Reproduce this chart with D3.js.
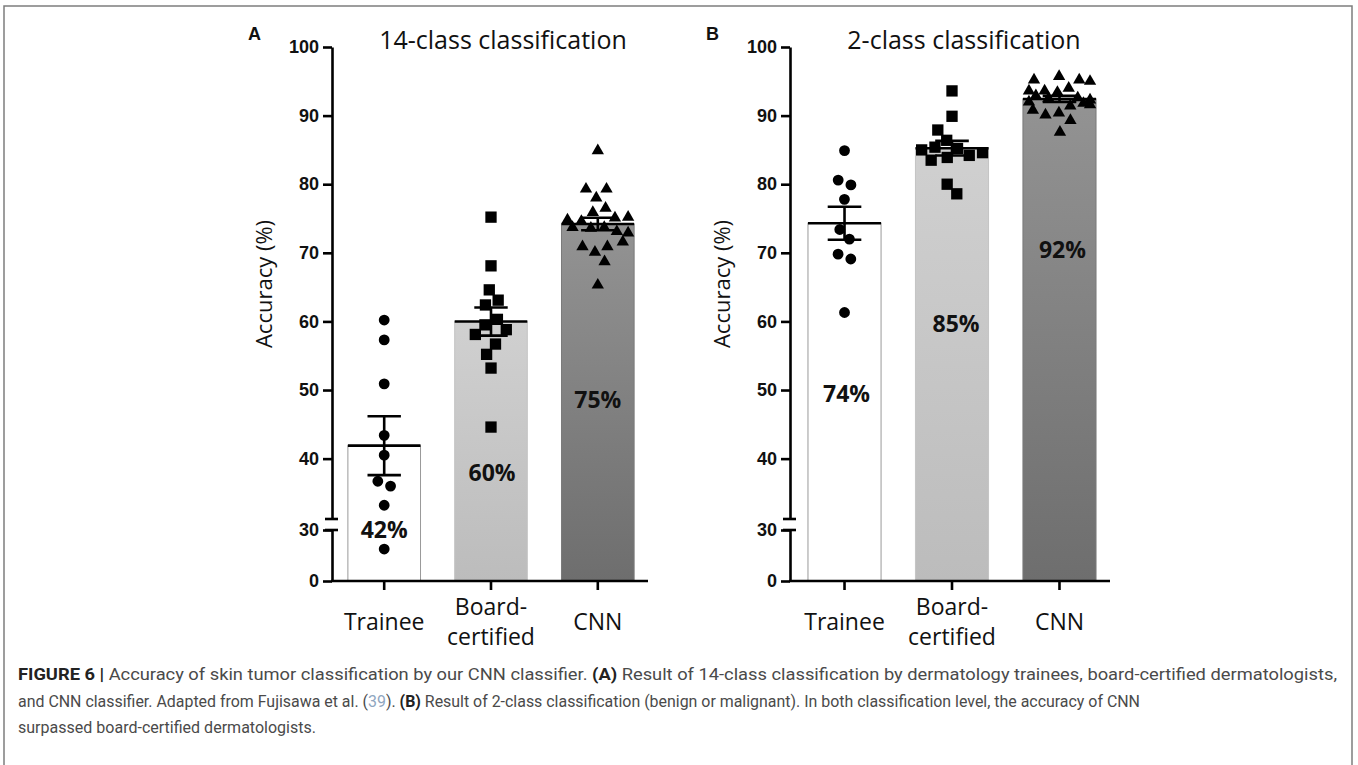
<!DOCTYPE html>
<html>
<head>
<meta charset="utf-8">
<script src="https://cdn.jsdelivr.net/npm/d3@7"></script>
<style>
  body { margin: 0; background: #fff; }
  svg { display: block; }
</style>
</head>
<body>
<svg id="fig" width="1358" height="765"></svg>
<script>
// reader groups, tick values and per-reader accuracy (%)
const groups = ["Trainee", "Board-certified", "CNN"];
const groupLabels = [["Trainee"], ["Board-", "certified"], ["CNN"]];
const yTicksHigh = [40, 50, 60, 70, 80, 90, 100];
const yTicksLow = [0, 30];

// A: 14-class
const traineeA = [60.2, 57.3, 50.9, 43.4, 40.5, 36.7, 36.0, 33.2, 18.8];
const boardA = [75.2, 68.1, 64.6, 63.1, 62.4, 60.3, 59.5, 58.8, 58.1, 56.7, 55.2, 53.2, 44.6];
const cnnA = [84.9, 79.3, 79.3, 78.0, 76.5, 75.9, 75.2, 75.1, 74.8, 74.6, 73.7, 73.7, 73.6,
              73.1, 72.9, 71.6, 70.9, 70.9, 70.1, 68.7, 65.3];
const pctA = ["42%", "60%", "75%"];

// B: 2-class
const traineeB = [84.9, 80.6, 79.9, 77.8, 73.4, 72.0, 69.8, 69.1, 61.3];
const boardB = [93.6, 89.9, 87.9, 86.4, 85.4, 85.2, 85.0, 84.6, 84.2, 83.9, 83.5, 80.0, 78.6];
const cnnB = [95.7, 95.2, 95.2, 95.0, 94.0, 93.6, 93.6, 93.4, 92.9, 92.6, 92.5, 92.3, 92.0,
              91.8, 91.6, 91.4, 90.8, 90.4, 90.1, 89.3, 87.6];
const pctB = ["74%", "85%", "92%"];

const svg = d3.select("#fig");
const defs = svg.append("defs");

function grad(id, top, bottom) {
  const g = defs.append("linearGradient").attr("id", id)
    .attr("x1", 0).attr("y1", 0).attr("x2", 0).attr("y2", 1);
  g.append("stop").attr("offset", "0%").attr("stop-color", top);
  g.append("stop").attr("offset", "100%").attr("stop-color", bottom);
}
grad("gBoard", "#d0d0d0", "#bcbcbc");
grad("gCnn", "#939393", "#6e6e6e");

const barFill = ["#ffffff", "url(#gBoard)", "url(#gCnn)"];
const barStroke = ["#9a9a9a", "#c4c4c4", "#7a7a7a"];
const shapes = [d3.symbolCircle, d3.symbolSquare, d3.symbolTriangle];
const shapeSize = [92, 128, 66];

// broken y axis: 0-30 squeezed below the break, 30-100 above
const yLow = d3.scaleLinear().domain([0, 30]).range([581, 530]);
const yHigh = d3.scaleLinear().domain([31.2, 100]).range([519, 47]);
const y = v => v <= 30 ? yLow(v) : yHigh(v);

const panels = [
  { letter: "A", title: "14-class classification", data: [traineeA, boardA, cnnA], pct: pctA,
    axisX: 332, range: [334, 648], titleX: 503, labelAt: [25.3, 36.7, 47.4], labelDx: [0, 1, 0] },
  { letter: "B", title: "2-class classification", data: [traineeB, boardB, cnnB], pct: pctB,
    axisX: 790, range: [794, 1110], titleX: 964, labelAt: [48.3, 58.5, 69.2], labelDx: [2, 4, 3] }
];

// simple beeswarm: y fixed, collide sideways, kept inside the bar
function swarm(vals, cx, lim) {
  const nodes = vals.map(v => ({ v: v, x: cx, y: y(v), fy: y(v) }));
  const sim = d3.forceSimulation(nodes)
    .force("x", d3.forceX(cx).strength(0.05))
    .force("c", d3.forceCollide(6.8).iterations(3))
    .stop();
  for (let k = 0; k < 300; k++) {
    sim.tick();
    nodes.forEach(d => { d.x = Math.max(cx - lim, Math.min(cx + lim, d.x)); });
  }
  return nodes;
}

panels.forEach(p => {
  const g = svg.append("g");
  const x = d3.scaleBand().domain(groups).range(p.range).paddingInner(0.32).paddingOuter(0.13);
  const bw = x.bandwidth();

  // bars = group mean
  p.data.forEach((vals, i) => {
    const m = d3.mean(vals);
    g.append("rect")
      .attr("x", x(groups[i])).attr("y", y(m))
      .attr("width", bw).attr("height", y(0) - y(m))
      .attr("fill", barFill[i]).attr("stroke", barStroke[i]).attr("stroke-width", 1);
  });

  // percentage labels
  p.pct.forEach((t, i) => {
    g.append("text")
      .attr("x", x(groups[i]) + bw / 2 + p.labelDx[i]).attr("y", y(p.labelAt[i]))
      .attr("text-anchor", "middle")
      .style("font-family", "'Open Sans', sans-serif").style("font-weight", 700)
      .style("font-size", "23px").style("fill", "#111")
      .text(t);
  });

  // individual readers
  p.data.forEach((vals, i) => {
    const cx = x(groups[i]) + bw / 2;
    g.append("g").selectAll("path")
      .data(swarm(vals, cx, bw / 2 - 6))
      .join("path")
      .attr("transform", d => `translate(${d.x},${d.y})`)
      .attr("d", d3.symbol().type(shapes[i]).size(shapeSize[i]))
      .attr("fill", "#000");
  });

  // mean line + SEM
  p.data.forEach((vals, i) => {
    const m = d3.mean(vals);
    const sem = d3.deviation(vals) / Math.sqrt(vals.length);
    const cx = x(groups[i]) + bw / 2;
    const cap = bw * 0.23;
    const eg = g.append("g").attr("stroke", "#000").attr("stroke-width", 2.6);
    eg.append("line").attr("x1", x(groups[i])).attr("x2", x(groups[i]) + bw)
      .attr("y1", y(m)).attr("y2", y(m));
    eg.append("line").attr("x1", cx).attr("x2", cx).attr("y1", y(m + sem)).attr("y2", y(m - sem));
    [m + sem, m - sem].forEach(v => {
      eg.append("line").attr("x1", cx - cap).attr("x2", cx + cap).attr("y1", y(v)).attr("y2", y(v));
    });
  });

  // y axis, two segments
  const axHigh = g.append("g").attr("transform", `translate(${p.axisX},0)`)
    .call(d3.axisLeft(yHigh).tickValues(yTicksHigh).tickSize(9).tickPadding(4).tickSizeOuter(0));
  const axLow = g.append("g").attr("transform", `translate(${p.axisX},0)`)
    .call(d3.axisLeft(yLow).tickValues(yTicksLow).tickSize(9).tickPadding(4).tickSizeOuter(0));
  [axHigh, axLow].forEach(a => {
    a.selectAll("path, line").attr("stroke", "#000").attr("stroke-width", 2.6);
    a.selectAll("text")
      .style("font-family", "'Liberation Sans', Arial, sans-serif").style("font-weight", 700)
      .style("font-size", "18px").attr("fill", "#111");
  });
  // break marks
  [yHigh(31.2), yLow(30)].forEach(v => {
    g.append("line").attr("x1", p.axisX - 7).attr("x2", p.axisX + 6)
      .attr("y1", v).attr("y2", v).attr("stroke", "#000").attr("stroke-width", 2.6);
  });

  // x axis
  g.append("line").attr("x1", p.axisX - 1).attr("x2", p.range[1])
    .attr("y1", y(0)).attr("y2", y(0)).attr("stroke", "#000").attr("stroke-width", 2.6);
  groups.forEach((c, i) => {
    const cx = x(c) + bw / 2;
    g.append("line").attr("x1", cx).attr("x2", cx).attr("y1", y(0)).attr("y2", y(0) + 9)
      .attr("stroke", "#000").attr("stroke-width", 2.6);
    const lines = groupLabels[i];
    const t = g.append("text").attr("text-anchor", "middle")
      .style("font-family", "'Open Sans', sans-serif").style("font-size", "23px").style("fill", "#111");
    lines.forEach((l, k) => {
      t.append("tspan").attr("x", cx)
        .attr("y", lines.length === 1 ? 630 : 615 + k * 30)
        .text(l);
    });
  });

  // y title
  g.append("text")
    .attr("transform", `translate(${p.axisX - 69},284) rotate(-90)`)
    .attr("text-anchor", "middle").attr("dominant-baseline", "central")
    .style("font-family", "'Open Sans', sans-serif").style("font-size", "22px").style("fill", "#111")
    .text("Accuracy (%)");

  // panel title + letter
  g.append("text").attr("x", p.titleX).attr("y", 49).attr("text-anchor", "middle")
    .style("font-family", "'Open Sans', sans-serif").style("font-size", "25px").style("fill", "#111")
    .text(p.title);
  g.append("text").attr("x", p.axisX - 84).attr("y", 40)
    .style("font-family", "'Liberation Sans', Arial, sans-serif").style("font-weight", 700)
    .style("font-size", "18px").style("fill", "#111")
    .text(p.letter);
});

// frame
svg.append("path").attr("d", "M4,765V6H1352V765")
  .attr("fill", "none").attr("stroke", "#7d7d7d").attr("stroke-width", 1.5);

// caption
const capLines = [
  { y: 680, len: 1319, parts: [
    ["FIGURE 6 |", "b"], [" Accuracy of skin tumor classification by our CNN classifier. ", ""], ["(A)", "b"],
    [" Result of 14-class classification by dermatology trainees, board-certified dermatologists,", ""]] },
  { y: 706.5, len: 1122, parts: [
    ["and CNN classifier. Adapted from Fujisawa et al. (", ""], ["39", "l"], ["). ", ""], ["(B)", "b"],
    [" Result of 2-class classification (benign or malignant). In both classification level, the accuracy of CNN", ""]] },
  { y: 733, len: 298, parts: [["surpassed board-certified dermatologists.", ""]] }
];
capLines.forEach(l => {
  const t = svg.append("text").attr("x", 18).attr("y", l.y)
    .attr("textLength", l.len).attr("lengthAdjust", "spacingAndGlyphs")
    .style("font-family", "'Liberation Sans Narrow', 'Roboto', sans-serif")
    .style("font-size", "16px").style("fill", "#4a4a4a");
  l.parts.forEach(([s, k]) => {
    const ts = t.append("tspan").text(s);
    if (k === "b") ts.style("font-weight", 700).style("fill", "#222");
    if (k === "l") ts.style("fill", "#8fa6bf");
  });
});
</script>
</body>
</html>
